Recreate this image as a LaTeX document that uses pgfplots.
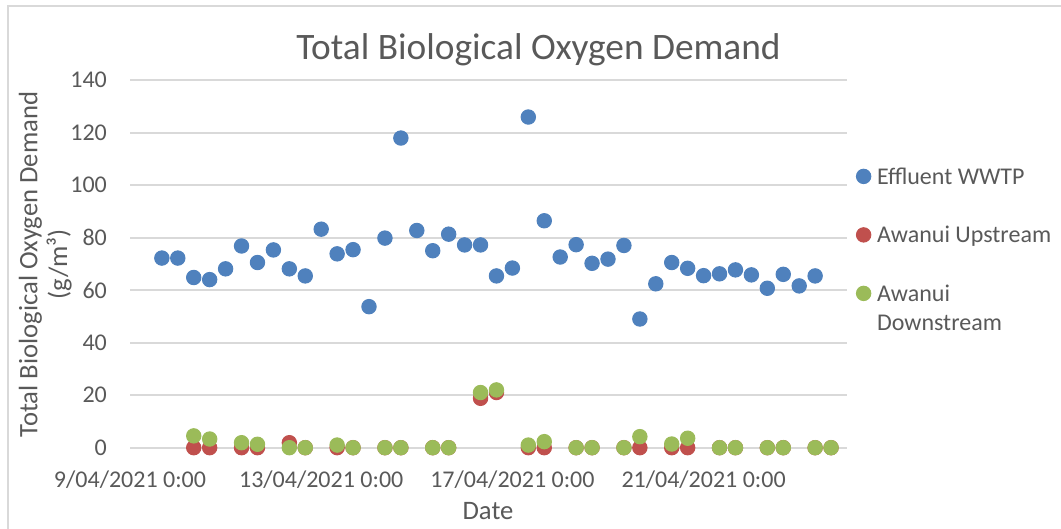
\documentclass[border=0pt]{standalone}
\usepackage{pgfplots}
\pgfplotsset{compat=1.18}
\usepackage{fontspec}
\setmainfont{Carlito}
\definecolor{txt}{HTML}{595959}
\definecolor{gridc}{HTML}{D9D9D9}
\definecolor{cB}{HTML}{4F81BD}
\definecolor{cR}{HTML}{C0504D}
\definecolor{cG}{HTML}{9BBB59}
\begin{document}
\begin{tikzpicture}[x=0.5pt,y=0.5pt]
\useasboundingbox (0,0) rectangle (1061,529);
\draw[gridc, line width=1pt] (8.2,-20) -- (8.2,523) -- (1080,523);
\node[anchor=base, text=txt, font=\fontsize{18.67}{22}\selectfont, inner sep=0pt] at (538.5,469) {Total Biological Oxygen Demand};
\node[anchor=base, rotate=90, text=txt, font=\fontsize{13.33}{16}\selectfont, inner sep=0pt] at (37.5,264.5) {Total Biological Oxygen Demand};
\node[anchor=base, rotate=90, text=txt, font=\fontsize{13.33}{16}\selectfont, inner sep=0pt] at (67,264.5) {(g/m³)};
\node[anchor=base, text=txt, font=\fontsize{13.33}{16}\selectfont, inner sep=0pt] at (488,9.7) {Date};
\begin{axis}[
  at={(65pt,40.65pt)}, anchor=south west,
  scale only axis, width=358.5pt, height=183.85pt,
  xmin=0, xmax=360, ymin=0, ymax=140,
  clip=false,
  axis line style={draw=none},
  tick style={draw=none},
  ymajorgrids, grid style={gridc, line width=1pt},
  xtick={0,96,192,288},
  xticklabels={9/04/2021 0:00, 13/04/2021 0:00, 17/04/2021 0:00, 21/04/2021 0:00},
  ytick={0,20,...,140},
  /pgf/number format/assume math mode=true,
  tick label style={font=\fontsize{12}{14.4}\selectfont, text=txt, inner sep=0pt},
  yticklabel style={anchor=east, xshift=-11.35pt},
  xticklabel style={anchor=base, yshift=-20pt},
  legend style={at={(1.0126,0.7787)}, anchor=north west, draw=none, fill=none,
     inner sep=0pt, row sep=0pt, column sep=1.1pt,
     font=\fontsize{12}{14.4}\selectfont, text=txt,
     cells={anchor=west, inner sep=0pt, text height=9.125pt, text depth=1.825pt}},
  legend image code/.code={\draw[#1] plot coordinates {(0pt,0pt)};},
]
\addplot[only marks, mark=*, mark size=3.6pt, mark options={fill=cB, draw=cB, line width=0.5pt}] table {
x y
16 72.2
24 72.2
32 64.8
40 64.0
48 68.1
56 76.8
64 70.5
72 75.3
80 68.1
88 65.4
96 83.2
104 73.8
112 75.4
120 53.7
128 79.8
136 117.9
144 82.7
152 75.0
160 81.3
168 77.2
176 77.2
184 65.4
192 68.4
200 125.9
208 86.4
216 72.6
224 77.3
232 70.2
240 71.8
248 77.0
256 49.0
264 62.4
272 70.5
280 68.3
288 65.5
296 66.2
304 67.7
312 65.8
320 60.7
328 66.0
336 61.6
344 65.4
};
\addlegendentry{Effluent WWTP}
\addlegendimage{empty legend}\addlegendentry{\mbox{}}
\addplot[only marks, mark=*, mark size=3.6pt, mark options={fill=cR, draw=cR, line width=0.5pt}] table {
x y
32 0
40 0
56 0
64 0
80 1.9
88 0
104 0
112 0
128 0
136 0
152 0
160 0
176 18.8
184 21.0
200 0
208 0
224 0
232 0
248 0
256 0
272 0
280 0
296 0
304 0
320 0
328 0
344 0
352 0
};
\addlegendentry{Awanui Upstream}
\addlegendimage{empty legend}\addlegendentry{\mbox{}}
\addplot[only marks, mark=*, mark size=3.6pt, mark options={fill=cG, draw=cG, line width=0.5pt}] table {
x y
32 4.5
40 3.3
56 1.9
64 1.3
80 0
88 0
104 1.0
112 0
128 0
136 0
152 0
160 0
176 21.0
184 22.0
200 1.0
208 2.3
224 0
232 0
248 0
256 4.2
272 1.4
280 3.6
296 0
304 0
320 0
328 0
344 0
352 0
};
\addlegendentry{Awanui}
\addlegendimage{empty legend}\addlegendentry{Downstream}
\end{axis}
\end{tikzpicture}
\end{document}
